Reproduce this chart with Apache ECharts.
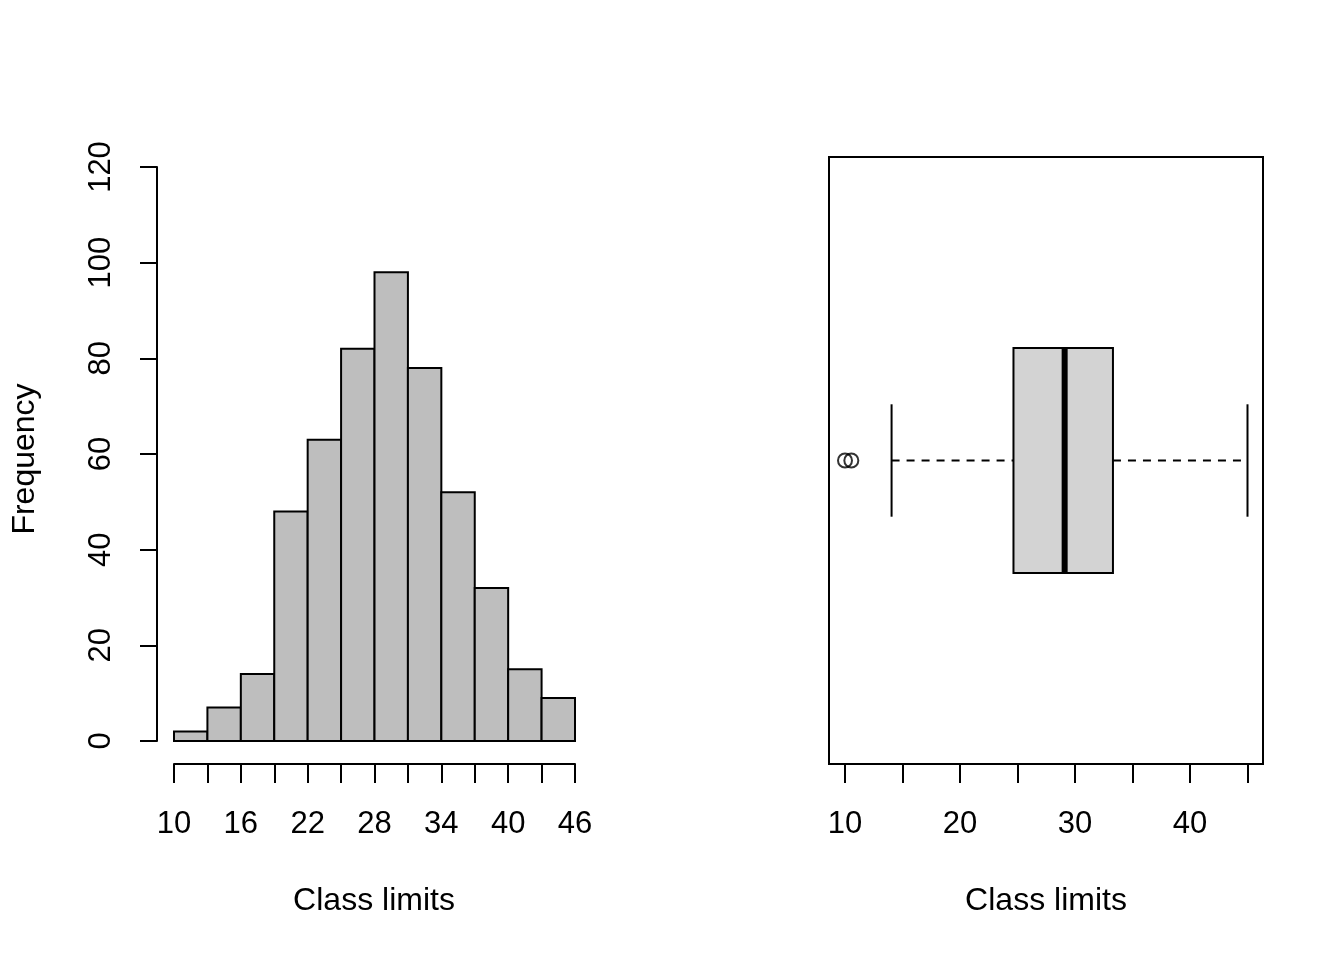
<!DOCTYPE html>
<html>
<head>
<meta charset="utf-8">
<script src="https://cdn.jsdelivr.net/npm/echarts@6/dist/echarts.min.js"></script>
<style>
  html, body { margin: 0; padding: 0; background: #fff; }
  #chart { width: 1344px; height: 960px; }
</style>
</head>
<body>
<div id="chart"></div>
<script>
// histogram classes (width 3) and their counts
const binStarts = [10, 13, 16, 19, 22, 25, 28, 31, 34, 37, 40, 43];
const binEnds   = [13, 16, 19, 22, 25, 28, 31, 34, 37, 40, 43, 46];
const counts    = [2, 7, 14, 48, 63, 82, 98, 78, 52, 32, 15, 9];
const histXTicks = [10, 16, 22, 28, 34, 40, 46];

// boxplot: lower whisker, Q1, median, Q3, upper whisker
const boxStats = [14.05, 24.65, 29.1, 33.3, 45];
const outliers = [10.0, 10.55];
const boxXTicks = [10, 20, 30, 40];

const FONT = "Liberation Sans, Arial, sans-serif";
const FS = 31;
const TITLE_FS = 32;
const black = "#000";

var chart = echarts.init(document.getElementById("chart"));

const histData = binStarts.map((s, i) => [s, binEnds[i], counts[i]]);

function axisCommon() {
    return {
        axisLine: { show: true, onZero: false, lineStyle: { color: black, width: 2 } },
        axisTick: { show: true, length: 19, lineStyle: { color: black, width: 2 } },
        splitLine: { show: false }
    };
}

function tickLabels(keep, extra) {
    return Object.assign({
        color: black, fontSize: FS, fontFamily: FONT, margin: 45,
        formatter: v => keep.includes(v) ? String(v) : ""
    }, extra || {});
}

chart.setOption({
    backgroundColor: "#fff",
    animation: false,
    grid: [
        { left: 174, width: 401, top: 167, height: 574 },
        { left: 845, width: 402.5, top: 157, height: 607 }
    ],
    xAxis: [
        Object.assign(axisCommon(), {
            gridIndex: 0, type: "value", min: 10, max: 46, interval: 3, offset: 23,
            axisLabel: tickLabels(histXTicks)
        }),
        Object.assign(axisCommon(), {
            gridIndex: 1, type: "value", min: 10, max: 45, interval: 5,
            axisLabel: tickLabels(boxXTicks)
        })
    ],
    yAxis: [
        Object.assign(axisCommon(), {
            gridIndex: 0, type: "value", min: 0, max: 120, interval: 20, offset: 17,
            axisTick: { show: true, length: 17, lineStyle: { color: black, width: 2 } },
            axisLabel: { color: black, fontSize: FS, fontFamily: FONT, margin: 40, rotate: 90 }
        }),
        { gridIndex: 1, type: "value", min: 0.46, max: 1.54, show: false }
    ],
    graphic: [
        {
            type: "rect", silent: true,
            shape: { x: 829, y: 157, width: 434, height: 607 },
            style: { fill: "none", stroke: black, lineWidth: 2 }
        },
        {
            type: "text", x: 374, y: 901,
            style: { text: "Class limits", font: TITLE_FS + "px " + FONT, fill: black, align: "center", verticalAlign: "middle" }
        },
        {
            type: "text", x: 1046, y: 901,
            style: { text: "Class limits", font: TITLE_FS + "px " + FONT, fill: black, align: "center", verticalAlign: "middle" }
        },
        {
            type: "text", x: 25, y: 459, rotation: Math.PI / 2,
            style: { text: "Frequency", font: TITLE_FS + "px " + FONT, fill: black, align: "center", verticalAlign: "middle" }
        }
    ],
    series: [
        {
            type: "custom",
            xAxisIndex: 0, yAxisIndex: 0,
            data: histData,
            encode: { x: [0, 1], y: 2 },
            renderItem: function (params, api) {
                const p0 = api.coord([api.value(0), 0]);
                const p1 = api.coord([api.value(1), api.value(2)]);
                return {
                    type: "rect",
                    shape: { x: p0[0], y: p1[1], width: p1[0] - p0[0], height: p0[1] - p1[1] },
                    style: { fill: "#BEBEBE", stroke: black, lineWidth: 2 }
                };
            }
        },
        {
            type: "custom",
            xAxisIndex: 1, yAxisIndex: 1,
            data: [boxStats],
            encode: { x: [0, 1, 2, 3, 4] },
            renderItem: function (params, api) {
                const lo = api.value(0), q1 = api.value(1), md = api.value(2),
                      q3 = api.value(3), hi = api.value(4);
                const c = p => api.coord(p);
                const line = (a, b, extra) => ({
                    type: "line",
                    shape: { x1: a[0], y1: a[1], x2: b[0], y2: b[1] },
                    style: Object.assign({ stroke: black, lineWidth: 2 }, extra || {})
                });
                const tl = c([q1, 1.2]), br = c([q3, 0.8]);
                return {
                    type: "group",
                    children: [
                        line(c([lo, 1]), c([q1, 1]), { lineDash: [8, 7] }),
                        line(c([q3, 1]), c([hi, 1]), { lineDash: [8, 7] }),
                        line(c([lo, 0.9]), c([lo, 1.1])),
                        line(c([hi, 0.9]), c([hi, 1.1])),
                        {
                            type: "rect",
                            shape: { x: tl[0], y: tl[1], width: br[0] - tl[0], height: br[1] - tl[1] },
                            style: { fill: "#D3D3D3", stroke: black, lineWidth: 2 }
                        },
                        line(c([md, 0.8]), c([md, 1.2]), { lineWidth: 6 })
                    ]
                };
            }
        },
        {
            type: "scatter",
            xAxisIndex: 1, yAxisIndex: 1,
            data: outliers.map(v => [v, 1]),
            symbol: "circle",
            symbolSize: 14,
            itemStyle: { color: "rgba(0,0,0,0)", borderColor: black, borderWidth: 2 }
        }
    ]
});
</script>
</body>
</html>
